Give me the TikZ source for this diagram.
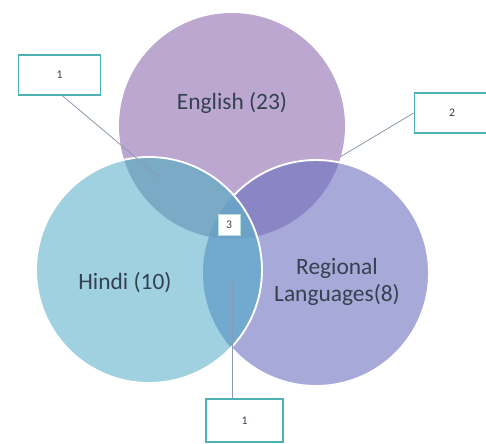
\documentclass[tikz,border=0pt]{standalone}
\usepackage{fontspec}
\setmainfont{Carlito}
\usetikzlibrary{positioning}
\definecolor{engcol}{HTML}{BBA7D0}
\definecolor{hincol}{HTML}{9FD1E1}
\definecolor{regcol}{HTML}{A7AAD9}
\definecolor{ehcol}{HTML}{7AAAC6}
\definecolor{ercol}{HTML}{8A86C6}
\definecolor{hrcol}{HTML}{72A9CF}
\definecolor{ehrcol}{HTML}{6CA2C8}
\definecolor{boxline}{HTML}{4DB0B2}
\definecolor{leadcol}{HTML}{8C9BB0}
\definecolor{txtcol}{HTML}{34414F}
\tikzstyle{every node}=[text=txtcol]
\tikzstyle{setlabel}=[font=\fontsize{20}{23}\selectfont, align=center]
\tikzstyle{numbox}=[draw=boxline, line width=1.4pt, fill=white, font=\fontsize{10}{12}\selectfont]
\tikzstyle{leader}=[draw=leadcol, line width=0.7pt]

\begin{document}
\begin{tikzpicture}[x=0.03cm, y=-0.03cm]
        \useasboundingbox (0, 0) rectangle (486, 443);

        \coordinate (E) at (232, 126);
        \coordinate (H) at (149, 270);
        \coordinate (R) at (316, 273);
        \def\rad{113}

        % circles
        \fill [engcol] (E) circle (\rad);
        \fill [regcol] (R) circle (\rad);
        \fill [hincol] (H) circle (\rad);

        % overlaps
        \begin{scope}
            \clip (E) circle (\rad);
            \fill [ehcol] (H) circle (\rad);
            \fill [ercol] (R) circle (\rad);
        \end{scope}
        \begin{scope}
            \clip (H) circle (\rad);
            \fill [hrcol] (R) circle (\rad);
            \clip (E) circle (\rad);
            \fill [ehrcol] (R) circle (\rad);
        \end{scope}

        % white edges
        \begin{scope}[even odd rule]
            \clip (0, 0) rectangle (486, 443) (H) circle (\rad);
            \draw [white, line width=1.6pt] (R) circle (\rad);
        \end{scope}
        \draw [white, line width=1.6pt] (H) circle (\rad);

        \node [setlabel] (eng) at (232, 103) {English (23)};
        \node [setlabel] (hin) at (125, 283) {Hindi (10)};
        \node [setlabel] (reg) at (337, 282) {Regional\\Languages(8)};

        % counts
        \node [numbox, minimum width=2.45cm, minimum height=1.2cm] (eh) at (59.5, 75) {1};
        \node [numbox, minimum width=2.25cm, minimum height=1.2cm] (er) at (452, 113) {2};
        \node [numbox, draw=boxline!40, line width=0.6pt, minimum width=0.66cm, minimum height=0.62cm, inner sep=1pt] (ehr) at (229, 225) {3};
        \node [numbox, minimum width=2.3cm, minimum height=1.28cm] (hr) at (244.5, 420.5) {1};

        \coordinate (ehend) at (160, 178);
        \coordinate (erend) at (340, 157);
        \coordinate (hrend) at (232, 281);

        \draw [leader] (eh.south) ++(3, 0) -- (ehend);
        \draw [leader] (er.west) -- (erend);
        \draw [leader] (hrend) -- (hrend |- hr.north);
    \end{tikzpicture}
\end{document}
